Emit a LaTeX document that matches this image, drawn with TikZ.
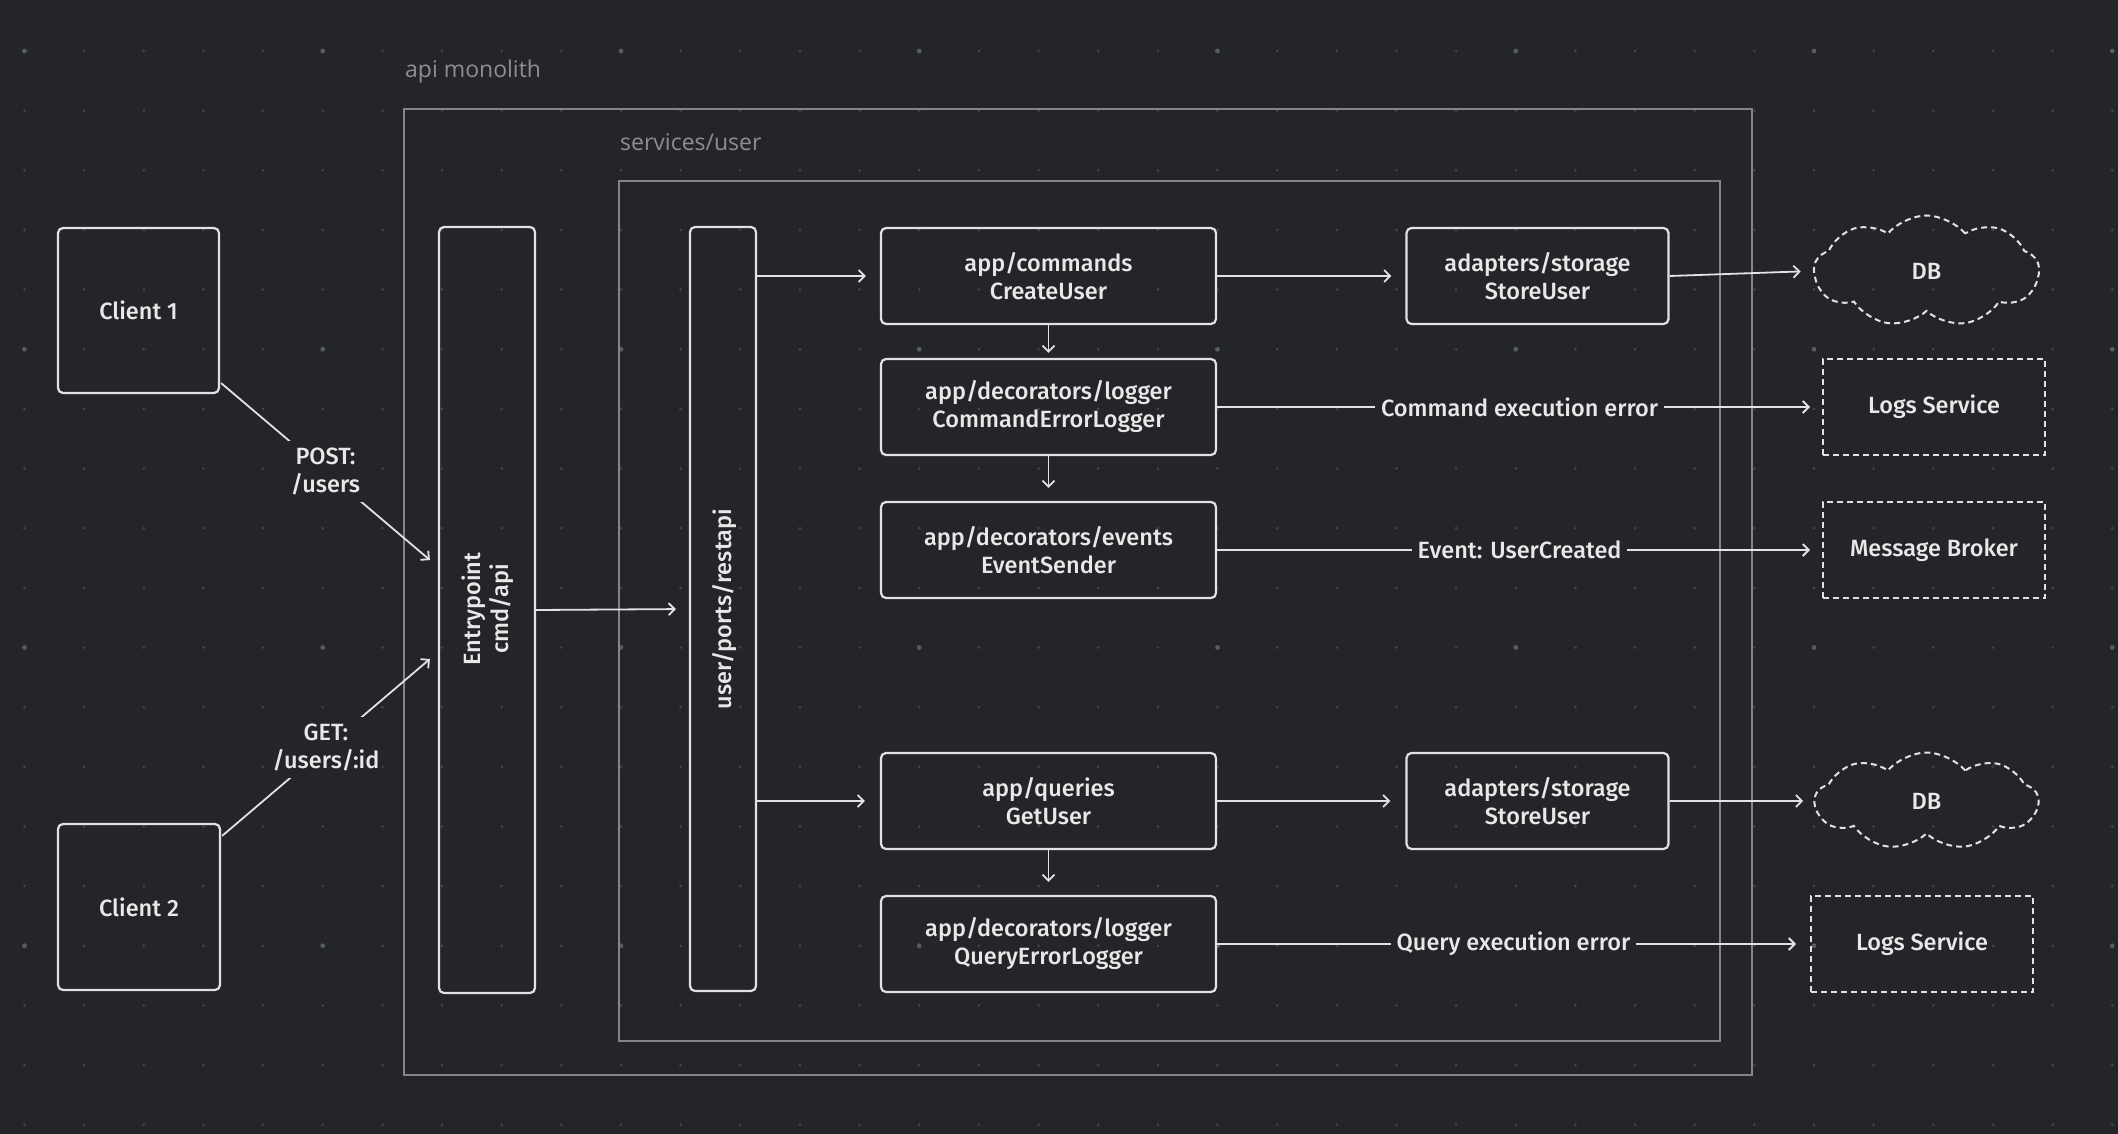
\documentclass[tikz,border=0pt]{standalone}
\usepackage{fontspec}
\setmainfont{Fira Sans}[BoldFont={Fira Sans Medium}]
\newfontfamily\labelfont{Open Sans}
\usetikzlibrary{arrows.meta,shapes.symbols,calc}
\definecolor{bgc}{HTML}{232529}
\definecolor{dotc}{HTML}{3F4247}
\definecolor{dotbig}{HTML}{585B60}
\definecolor{linec}{HTML}{E2E2E2}
\definecolor{txtc}{HTML}{E8E8E8}
\definecolor{framec}{HTML}{858585}
\definecolor{labc}{HTML}{8E8E8E}
\begin{document}
\begin{tikzpicture}[x=1pt,y=-1pt,
  hand/.style={font=\fontsize{23.5}{28}\selectfont\bfseries, text=txtc, align=center},
  box/.style={draw=linec, line width=2.2pt, rounded corners=5pt, hand, inner sep=0pt},
  extbox/.style={draw=linec, line width=2pt, dash pattern=on 6pt off 4pt, hand, inner sep=0pt},
  dbcloud/.style={draw=linec, line width=2pt, dash pattern=on 6pt off 4pt, hand, cloud, cloud puffs=9, cloud puff arc=100, aspect=2.1, inner sep=0pt},
  frame/.style={draw=framec, line width=1.5pt},
  framelabel/.style={font=\labelfont\fontsize{23}{28}\selectfont, text=labc, anchor=base west, inner sep=0pt},
  arr/.style={draw=linec, line width=1.8pt, -{Straight Barb[length=6pt,width=12pt,line width=1.8pt]}},
  lab/.style={hand, fill=bgc, inner xsep=6pt, inner ysep=2pt},
  diaglab/.style={hand, fill=bgc, inner xsep=3pt, inner ysep=7pt}
]
\useasboundingbox (0,0) rectangle (2118,1134);
\fill[bgc] (0,0) rectangle (2118,1134);
% dot grid
\foreach \i in {0,...,35}{
  \foreach \j in {0,...,18}{
    \pgfmathsetmacro{\px}{24.5+59.65*\i}
    \pgfmathsetmacro{\py}{51+59.65*\j}
    \pgfmathtruncatemacro{\big}{(mod(\i,5)==0)&&(mod(\j,5)==0)}
    \ifnum\big=1
      \fill[dotbig] (\px,\py) circle (2.4pt);
    \else
      \fill[dotc] (\px,\py) circle (1.6pt);
    \fi
  }
}
% frames
\draw[frame] (404,109) rectangle (1752,1075);
\node[framelabel] (lmono) at (405,78) {api monolith};
\draw[frame] (619,181) rectangle (1720,1041);
\node[framelabel] (lsvc) at (620,151) {services/user};

% clients
\node[box, minimum width=161, minimum height=165] (c1) at (138.5,310.5) {Client 1};
\node[box, minimum width=162, minimum height=166] (c2) at (139,907) {Client 2};

% bars
\node[box, minimum width=96, minimum height=766] (ep) at (487,610) {};
\node[hand, rotate=90] (eptext) at (488,609) {Entrypoint\\cmd/api};
\node[box, minimum width=66, minimum height=764] (ra) at (723,609) {};
\node[hand, rotate=90] (ratext) at (725,609) {user/ports/restapi};

% app column
\node[box, minimum width=335, minimum height=96] (cu) at (1048.5,276) {app/commands\\CreateUser};
\node[box, minimum width=335, minimum height=96] (cel) at (1048.5,407) {app/decorators/logger\\CommandErrorLogger};
\node[box, minimum width=335, minimum height=96] (es) at (1048.5,550) {app/decorators/events\\EventSender};
\node[box, minimum width=335, minimum height=96] (gu) at (1048.5,801) {app/queries\\GetUser};
\node[box, minimum width=335, minimum height=96] (qel) at (1048.5,944) {app/decorators/logger\\QueryErrorLogger};

% storage
\node[box, minimum width=262, minimum height=96] (st1) at (1537.5,276) {adapters/storage\\StoreUser};
\node[box, minimum width=262, minimum height=96] (st2) at (1537.5,801) {adapters/storage\\StoreUser};

% externals
\node[dbcloud, minimum width=225, minimum height=111] (db1) at (1926.5,271) {DB};
\node[dbcloud, minimum width=223, minimum height=97] (db2) at (1926.5,801) {DB};
\node[extbox, minimum width=222, minimum height=96] (ls1) at (1934,407) {Logs Service};
\node[extbox, minimum width=222, minimum height=96] (mb) at (1934,550) {Message Broker};
\node[extbox, minimum width=222, minimum height=96] (ls2) at (1922,944) {Logs Service};

% client connectors
\draw[arr] ($(c1.south east)+(1,-11)$) -- node[diaglab] (lpost) {POST:\\/users} ($(ep.west)+(-8,-50)$);
\draw[arr] ($(c2.north east)+(1,13)$) -- node[diaglab] (lget) {GET:\\/users/:id} ($(ep.west)+(-8,49)$);

% internal connectors
\draw[arr, shorten >=13pt] (ep.east) -- (ra.west);
\draw[arr, shorten >=14pt] (ra.east |- cu.west) -- (cu.west);
\draw[arr, shorten >=15pt] (ra.east |- gu.west) -- (gu.west);
\draw[arr, shorten >=14pt] (cu.east) -- (st1.west);
\draw[arr, shorten >=12pt] (st1.east) -- (db1.west);
\draw[arr, shorten >=5pt] (cu.south) -- (cel.north);
\draw[arr, shorten >=13pt] (cel.south) -- (es.north);
\draw[arr, shorten >=12pt] (cel.east) -- node[lab] (lcmd) {Command execution error} (ls1.west);
\draw[arr, shorten >=12pt] (es.east) -- node[lab] (levt) {Event: UserCreated} (mb.west);
\draw[arr, shorten >=15pt] (gu.east) -- (st2.west);
\draw[arr, shorten >=10pt] (st2.east) -- (db2.west);
\draw[arr, shorten >=13pt] (gu.south) -- (qel.north);
\draw[arr, shorten >=14pt] (qel.east) -- node[lab] (lqry) {Query execution error} (ls2.west);
\end{tikzpicture}
\end{document}
